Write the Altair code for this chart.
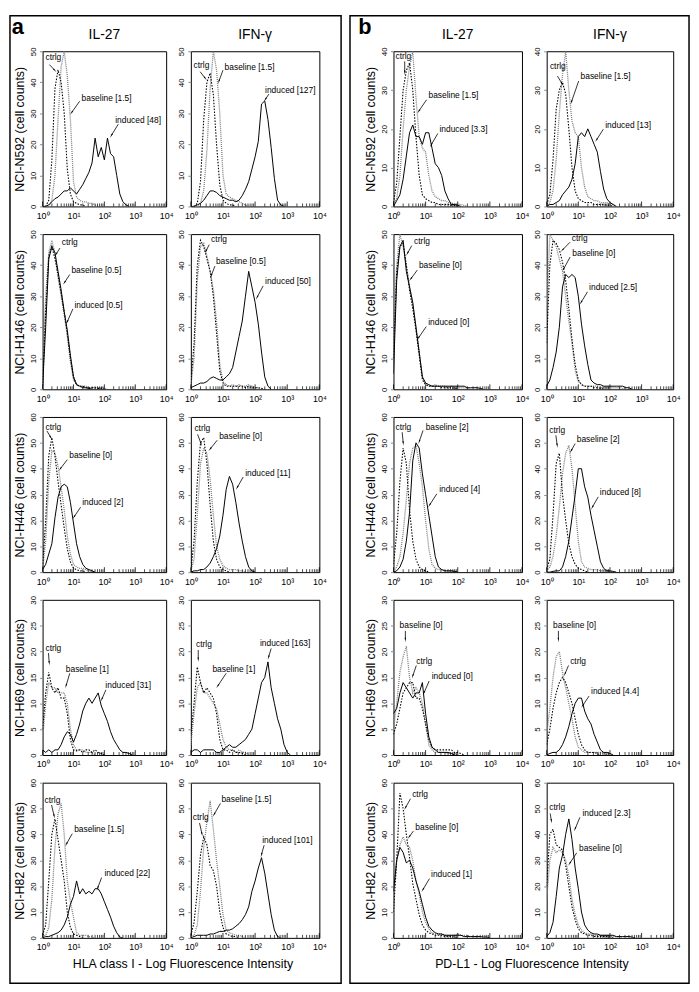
import math
import altair as alt
import pandas as pd

# log10 fluorescence bin positions (x = 10**bin)
LOG_BINS = [0.0, 0.1, 0.2, 0.3, 0.4, 0.5, 0.6, 0.7, 0.8, 0.9, 1.0, 1.1, 1.2, 1.3, 1.4, 1.5, 1.6, 1.7,
            1.8, 1.9, 2.0, 2.1, 2.2, 2.3, 2.4, 2.5, 2.6, 2.7, 2.8, 2.9, 3.0, 3.1, 3.2, 3.3, 3.4, 3.5]
DECADE_TICKS = [1, 10, 100, 1000, 10000]
DECADE_LABELS = ["10⁰", "10¹", "10²", "10³", "10⁴"]
ROW_NAMES = ["NCI-N592", "NCI-H146", "NCI-H446", "NCI-H69", "NCI-H82"]
YMAX_A = [50, 50, 60, 30, 60]
YMAX_B = [40, 50, 60, 30, 60]
COL_TITLES = ["IL-27", "IFN-γ"]
X_TITLES = ["HLA class I - Log Fluorescence Intensity", "PD-L1 - Log Fluorescence Intensity"]

# ---------------- panel a (HLA class I) ----------------
A1L_CTRL = [0, 0, 2, 15, 38, 44, 40, 30, 12, 4, 1.5, 1, 0.5, 0.5, 0]
A1L_BASE = [0, 0, 0, 2, 10, 28, 45, 50, 42, 28, 8, 3, 2, 1.5, 1.5, 1, 1, 0.5, 0]
A1L_IND = [0, 0, 0.5, 1.5, 2.5, 3, 4, 5, 5, 6, 5, 4, 5.5, 7, 9, 11, 14, 22, 16, 19, 15, 22, 17, 16, 10, 4, 1.5, 0.5, 0]
A1L_NOTES = [("ctrlg", 0.06, 48, 0.22, 45.7, 0.44, 43.4), ("baseline [1.5]", 1.23, 35, 1.2, 33.9, 0.9, 29.7),
             ("induced [48]", 2.32, 27.8, 2.45, 26.5, 2.19, 22.3)]
A1R_CTRL = [0, 0, 1, 8, 28, 40, 43, 36, 20, 7, 2, 1, 0.5, 0.5, 0]
A1R_BASE = [0, 0, 0, 1, 5, 18, 38, 50, 44, 30, 10, 4, 3, 2.5, 2, 1.5, 1, 0.5, 0]
A1R_IND = [0, 0, 0.5, 1, 2, 3.5, 5, 5, 4.5, 3.5, 3, 2.5, 2, 2, 1.5, 2, 3.5, 5.5, 8, 12, 16, 21, 33, 34, 28, 19, 9, 2, 0.5, 0]
A1R_NOTES = [("ctrlg", 0.05, 45.7, 0.29, 43.4, 0.49, 40.7), ("baseline [1.5]", 1.02, 45, 1.0, 43.9, 0.85, 39.7),
             ("induced [127]", 2.28, 37.6, 2.43, 36.2, 2.28, 33.9)]

A2L_CTRL = [2, 25, 43, 46, 42, 37, 31, 25, 18, 10, 4, 1.5, 1, 1, 0.5, 0.5, 0.5, 0.5, 0.3, 0.3, 0]
A2L_BASE = [5, 30, 44, 48, 44, 36, 30, 24, 17, 9, 3, 1.5, 1, 1, 1, 0.5, 0.5, 0.5, 0.5, 0.5, 0.3, 0]
A2L_IND = [1, 20, 42, 46, 44, 38, 32, 25, 19, 11, 4, 1.5, 1, 0.5, 0.5, 0.3, 0]
A2L_NOTES = [("ctrlg", 0.59, 47.4, 0.56, 45.5, 0.4, 42.9), ("baseline [0.5]", 0.9, 38.3, 0.88, 37, 0.67, 33.8),
             ("induced [0.5]", 1.0, 27.1, 0.98, 25.9, 0.77, 21.1)]
A2R_CTRL = [2, 15, 40, 48, 46, 42, 38, 30, 18, 6, 2, 1, 1, 1, 1, 1, 1, 0.5, 1, 0.5, 0.5, 0.5, 0.3, 0]
A2R_BASE = [1, 10, 35, 46, 47, 43, 38, 32, 22, 8, 2.5, 1.5, 1, 1.5, 1, 1.5, 1, 1, 1.5, 1, 0.5, 0.5, 0]
A2R_IND = [0.5, 1, 1.5, 2, 2, 2.5, 3.5, 4, 3.5, 3, 3, 4, 5, 7, 12, 17, 22, 30, 38, 33, 28, 21, 12, 4, 1, 0]
A2R_NOTES = [("ctrlg", 0.6, 48.5, 0.57, 46.6, 0.44, 43.9), ("baseline [0.5]", 0.75, 41.3, 0.75, 39.7, 0.61, 36),
             ("induced [50]", 2.28, 34.9, 2.25, 33.3, 2.03, 29)]

A3L_CTRL = [2, 20, 45, 52, 45, 35, 26, 17, 9, 4, 1.5, 1, 0.5, 0.5, 0]
A3L_BASE = [1, 12, 35, 47, 46, 41, 33, 24, 14, 7, 3, 2, 1.5, 1.5, 1, 0.5, 0]
A3L_IND = [1, 3, 7, 11, 21, 29, 33, 34, 33, 27, 19, 11, 6, 3, 1.5, 1, 0.5, 0]
A3L_NOTES = [("ctrlg", 0.06, 56, 0.14, 54.6, 0.3, 51.4), ("baseline [0]", 0.83, 45.2, 0.8, 43.5, 0.53, 39.3),
             ("induced [2]", 1.25, 27, 1.23, 25.1, 0.98, 20.7)]
A3R_CTRL = [1, 12, 35, 50, 52, 42, 26, 12, 5, 2, 1, 0.5, 0]
A3R_BASE = [0.5, 5, 22, 42, 48, 46, 36, 22, 10, 5, 2.5, 1.5, 1, 1, 1, 0.5, 0.5, 0]
A3R_IND = [0, 0.5, 0.5, 1, 1, 2, 3.5, 6, 9, 14, 22, 32, 37, 34, 27, 19, 12, 6, 2, 0.5, 0]
A3R_NOTES = [("ctrlg", 0.08, 55.8, 0.21, 53.3, 0.34, 48.9), ("baseline [0]", 0.85, 52.7, 0.82, 51, 0.56, 47),
             ("induced [11]", 1.66, 38.5, 1.63, 36.8, 1.41, 32)]

A4L_CTRL = [5, 12, 16, 13, 12, 13, 11, 11, 8, 3, 1, 0.8, 1, 0.5, 1, 1, 0.5, 1, 0.5, 0.3, 0]
A4L_BASE = [3, 10, 14, 13, 13, 12, 12, 12, 10, 5, 2, 1, 1, 1, 0.5, 0.5, 0.5, 0]
A4L_IND = [1, 0.5, 1, 0.5, 1, 1, 2, 3.5, 4.5, 4, 2.5, 4, 6, 8.5, 10, 11, 10, 11, 12, 9.5, 8, 6.5, 4.5, 3, 2, 1, 0.5, 0.5, 0.3, 0]
A4L_NOTES = [("ctrlg", 0.06, 20.6, 0.19, 19.7, 0.22, 17.4), ("baseline [1]", 0.72, 16.7, 0.88, 15.8, 0.74, 13),
             ("induced [31]", 2.0, 13.6, 2.05, 12.6, 1.89, 10.4)]
A4R_CTRL = [4, 10, 17, 14, 12, 13, 12, 11, 8, 3, 1, 1, 0.5, 1, 0.5, 0.5, 0.3, 0]
A4R_BASE = [2, 8, 13, 14, 12, 12, 11, 10, 9, 6, 3, 1.5, 1, 1, 0.5, 1, 0.5, 0.5, 0]
A4R_IND = [0.5, 1, 1, 0.5, 1, 1, 1, 1, 0.5, 0.5, 1, 1.5, 2, 1.5, 1.5, 2, 2.5, 3, 4, 5, 8, 11, 14, 15, 18, 13, 10, 7, 5, 2, 0.5, 0]
A4R_NOTES = [("ctrlg", 0.13, 21.4, 0.23, 20.3, 0.23, 18.1), ("baseline [1]", 0.64, 16.7, 1.1, 15.8, 0.8, 13),
             ("induced [163]", 2.12, 21.7, 2.5, 20.6, 2.4, 18.5)]

A5L_CTRL = [1, 5, 22, 40, 46, 38, 30, 22, 10, 4, 1.5, 1, 0.5, 0]
A5L_BASE = [0.5, 1, 4, 15, 35, 48, 52, 40, 22, 14, 8, 2, 1, 1, 1, 0.5, 0.3, 0]
A5L_IND = [0, 0.5, 0.5, 1, 1.5, 2, 3, 5, 8, 13, 16, 22, 17, 19, 17, 18, 17, 19, 19, 17, 14, 11, 8, 4.5, 2, 0.3, 0]
A5L_NOTES = [("ctrlg", 0.03, 53.3, 0.29, 51.4, 0.39, 46.3), ("baseline [1.5]", 0.99, 41.9, 0.96, 40.3, 0.74, 35.6),
             ("induced [22]", 1.97, 25.2, 1.91, 23.3, 1.76, 18.5)]
A5R_CTRL = [1, 6, 18, 32, 39, 36, 28, 26, 20, 10, 4, 1.5, 1, 0.5, 0.5, 0]
A5R_BASE = [0.5, 1, 5, 18, 35, 45, 53, 42, 30, 20, 9, 3, 2, 1.5, 1, 1, 0.5, 0]
A5R_IND = [0, 0.5, 1, 1, 1, 1, 1.5, 1.5, 2, 2.5, 2.5, 3, 3, 3.5, 4.5, 5.5, 7, 9, 12, 18, 22, 27, 31, 25, 17, 9, 3, 0.5, 0]
A5R_NOTES = [("ctrlg", 0.03, 46.6, 0.27, 44.4, 0.36, 39.4), ("baseline [1.5]", 0.92, 53.7, 0.92, 52, 0.69, 47),
             ("induced [101]", 2.19, 37.7, 2.28, 35.8, 2.18, 31.4)]

# ---------------- panel b (PD-L1) ----------------
B1L_CTRL = [1, 6, 18, 30, 35, 37, 30, 18, 8, 3, 2, 1.5, 1, 1, 0.5, 0.5, 0.5, 0.5, 0.3, 0.3, 0]
B1L_BASE = [0.5, 2, 8, 20, 30, 36, 40, 28, 18, 15, 14, 8, 4, 2.5, 2, 1.5, 1.5, 1, 1, 0.5, 0.5, 0.5, 0.3, 0]
B1L_IND = [0, 1.5, 3, 7, 13, 19, 21, 18, 18, 16, 19, 19, 15, 11, 10, 8, 4, 2, 0.5, 0.5, 0.3, 0]
B1L_NOTES = [("ctrlg", 0.03, 38.8, 0.35, 37.4, 0.35, 34), ("baseline [1.5]", 1.06, 28.7, 1.03, 27.5, 0.75, 24.1),
             ("induced [3.3]", 1.4, 19.9, 1.38, 18.8, 1.14, 15.4)]
B1R_CTRL = [0.5, 3, 12, 25, 30, 32, 29, 20, 10, 4, 2, 1.5, 1, 1, 1, 0.5, 0.5, 0.5, 0.5, 0.3, 0.3, 0]
B1R_BASE = [0, 1, 4, 12, 24, 34, 40, 30, 22, 19, 18, 10, 5, 2.5, 2, 1.5, 1.5, 1, 1, 1, 0.5, 0.5, 0]
B1R_IND = [0, 0.5, 0.5, 1, 1.5, 3, 4, 5, 7, 11, 18, 19, 18, 20, 18, 16, 14, 9, 4.5, 2, 1, 0.5, 0]
B1R_NOTES = [("ctrlg", 0.07, 36.1, 0.34, 33.6, 0.52, 31.2), ("baseline [1.5]", 1.04, 33.6, 1.01, 32.3, 0.76, 26.4),
             ("induced [13]", 1.82, 21.1, 1.79, 19.9, 1.54, 16.7)]

B2L_CTRL = [10, 38, 46, 47, 40, 32, 26, 19, 11, 3, 1.5, 1, 1, 1, 1, 0.5, 0.5, 0.5, 0.5, 0.3, 0]
B2L_BASE = [15, 40, 50, 46, 40, 33, 27, 20, 12, 4, 2, 1, 1, 1.5, 1, 1, 1, 0.5, 1, 0.5, 0.5, 0.5, 0.5, 0.3, 0]
B2L_IND = [5, 35, 46, 48, 38, 33, 28, 20, 12, 4, 2, 1.5, 1, 1, 1, 1, 1, 1, 1, 1, 1, 1, 1, 0.5, 0.5, 0.5, 0.5, 0.3, 0]
B2L_NOTES = [("ctrlg", 0.61, 47.9, 0.57, 46.3, 0.4, 43.2), ("baseline [0]", 0.76, 40, 0.74, 38.4, 0.5, 35),
             ("induced [0]", 1.05, 21.8, 1.02, 20.2, 0.74, 16)]
B2R_CTRL = [15, 40, 48, 47, 45, 41, 35, 26, 16, 8, 3, 1.5, 1, 1, 1, 0.5, 0.5, 0.3, 0]
B2R_BASE = [25, 50, 48, 46, 42, 38, 30, 22, 15, 6, 2.5, 1.5, 1, 1, 1, 1, 1, 0.5, 0.5, 0.5, 0.5, 0.5, 0.5, 0.5, 0.3, 0]
B2R_IND = [1, 3, 7, 12, 20, 33, 37, 36, 37, 36, 30, 21, 14, 8, 3, 2, 1.5, 1.5, 1, 1, 1, 1, 1, 1, 1, 0.5, 0.5, 0]
B2R_NOTES = [("ctrlg", 0.76, 48.6, 0.74, 47.4, 0.45, 44.4), ("baseline [0]", 0.78, 44, 0.74, 42.6, 0.5, 38.1),
             ("induced [2.5]", 1.31, 32.8, 1.29, 31.4, 1.05, 27.4)]

B3L_CTRL = [3, 15, 35, 48, 42, 24, 12, 5, 2, 1, 0.5, 0]
B3L_BASE = [0.5, 2, 6, 15, 28, 42, 48, 49, 42, 33, 20, 9, 3, 1.5, 1, 1, 0.5, 0.5, 0.5, 0.3, 0]
B3L_IND = [0, 0.5, 2, 5, 12, 23, 43, 50, 48, 38, 30, 22, 14, 6, 2, 1, 0.5, 0.5, 0.5, 0.3, 0]
B3L_NOTES = [("ctrlg", 0.03, 56, 0.27, 54.1, 0.31, 49.1), ("baseline [2]", 0.97, 56, 0.92, 54.8, 0.78, 49.7),
             ("induced [4]", 1.39, 32, 1.35, 30.3, 1.09, 25.3)]
B3R_CTRL = [1, 5, 22, 42, 46, 30, 20, 11, 6, 3, 1.5, 1, 0.5, 0]
B3R_BASE = [0.5, 2, 6, 14, 25, 38, 46, 49, 40, 26, 12, 4, 2, 1.5, 1, 1, 1, 0.5, 0.5, 0.5, 0.3, 0]
B3R_IND = [0, 0, 0.3, 0.5, 0.5, 2, 6, 12, 21, 30, 40, 40, 33, 29, 22, 16, 10, 4, 1.5, 0.5, 0.5, 0.3, 0]
B3R_NOTES = [("ctrlg", 0.05, 55, 0.29, 52.9, 0.34, 48.2), ("baseline [2]", 0.92, 51.6, 0.9, 49.7, 0.74, 46.2),
             ("induced [8]", 1.65, 31, 1.63, 29.1, 1.41, 24.4)]

B4L_CTRL = [4, 6, 9, 12, 13, 14, 14, 11, 11, 9, 6, 3, 1.5, 1, 1, 1, 1, 1, 1, 0.5, 0.5, 0.3, 0]
B4L_BASE = [5, 10, 16, 19, 21, 15, 12, 13, 12, 10, 6, 2, 1, 0.5, 0.5, 0.5, 0.5, 0.3, 0.3, 0.3, 0]
B4L_IND = [8, 9, 12, 14, 13, 12, 11, 12, 12, 14, 8, 3.5, 1.5, 1, 0.5, 0.5, 0.5, 0.5, 0.3, 0]
B4L_NOTES = [("baseline [0]", 0.16, 25.1, 0.37, 24, 0.37, 21.9), ("ctrlg", 0.68, 18.2, 0.71, 17.3, 0.58, 14.9),
             ("induced [0]", 1.16, 15.3, 1.11, 14.3, 0.92, 11.6)]
B4R_CTRL = [2, 5, 9, 12, 14, 15, 14, 12, 10, 7, 4, 2, 1, 0.5, 0.5, 0.5, 0.3, 0]
B4R_BASE = [4, 9, 15, 19, 20, 16, 13, 10, 7, 3.5, 1.5, 1, 0.5, 0.5, 0.5, 0.5, 0.5, 0.5, 0.3, 0]
B4R_IND = [0, 0.3, 0.5, 0.5, 1, 2, 3.5, 5.5, 8, 10, 11, 11, 8.5, 7, 6, 4, 2.5, 1, 0.5, 0.5, 0.3, 0]
B4R_NOTES = [("baseline [0]", 0.17, 25.1, 0.37, 24, 0.37, 21.9), ("ctrlg", 0.71, 18.2, 0.69, 17.3, 0.55, 15.3),
             ("induced [4.4]", 1.37, 12.4, 1.34, 11.4, 1.1, 9.2)]

B5L_CTRL = [10, 30, 56, 50, 40, 31, 21, 15, 9, 5, 3, 2, 1.5, 1, 1, 1, 0.5, 0.5, 0.5, 0.3, 0]
B5L_BASE = [15, 30, 36, 39, 36, 35, 30, 22, 17, 10, 6, 3.5, 2, 1.5, 1.5, 1.5, 1, 1, 1, 1, 1.5, 1, 1, 1, 0.5, 0.5, 0]
B5L_IND = [18, 30, 35, 33, 29, 30, 27, 22, 18, 13, 8, 4.5, 3, 2, 1.5, 1.5, 1, 1, 1, 1, 1, 1, 0.5, 0.5, 0.5, 0.5, 0.5, 0.5, 0.3, 0.3, 0]
B5L_NOTES = [("ctrlg", 0.55, 55.6, 0.53, 53.8, 0.34, 49.6), ("baseline [0]", 0.65, 42.9, 0.62, 41.3, 0.45, 38.4),
             ("induced [1]", 1.14, 24.6, 1.12, 22.9, 0.88, 17.9)]
B5R_CTRL = [20, 40, 42, 36, 35, 34, 28, 20, 12, 7, 3.5, 2, 1.5, 1, 1, 0.5, 0.5, 0.5, 0.5, 0.5, 0.3, 0]
B5R_BASE = [15, 30, 35, 33, 34, 33, 30, 24, 15, 9, 5, 3, 2, 1.5, 1.5, 1, 1, 1, 1, 1, 0.5, 0.5, 0.5, 0.3, 0]
B5R_IND = [0.5, 2, 6, 16, 27, 32, 40, 46, 38, 27, 19, 10, 5, 3, 2, 1.5, 1.5, 1, 1, 1, 1, 1, 0.5, 0.5, 0.5, 0.5, 0.5, 0.3, 0]
B5R_NOTES = [("ctrlg", 0.05, 50.4, 0.11, 48.1, 0.16, 44.4), ("induced [2.3]", 1.1, 48.4, 1.05, 46.6, 0.87, 41.3),
             ("baseline [0]", 0.99, 34.6, 0.95, 32.9, 0.69, 28.1)]

PANEL_A = [
    [(A1L_CTRL, A1L_BASE, A1L_IND, A1L_NOTES), (A1R_CTRL, A1R_BASE, A1R_IND, A1R_NOTES)],
    [(A2L_CTRL, A2L_BASE, A2L_IND, A2L_NOTES), (A2R_CTRL, A2R_BASE, A2R_IND, A2R_NOTES)],
    [(A3L_CTRL, A3L_BASE, A3L_IND, A3L_NOTES), (A3R_CTRL, A3R_BASE, A3R_IND, A3R_NOTES)],
    [(A4L_CTRL, A4L_BASE, A4L_IND, A4L_NOTES), (A4R_CTRL, A4R_BASE, A4R_IND, A4R_NOTES)],
    [(A5L_CTRL, A5L_BASE, A5L_IND, A5L_NOTES), (A5R_CTRL, A5R_BASE, A5R_IND, A5R_NOTES)],
]
PANEL_B = [
    [(B1L_CTRL, B1L_BASE, B1L_IND, B1L_NOTES), (B1R_CTRL, B1R_BASE, B1R_IND, B1R_NOTES)],
    [(B2L_CTRL, B2L_BASE, B2L_IND, B2L_NOTES), (B2R_CTRL, B2R_BASE, B2R_IND, B2R_NOTES)],
    [(B3L_CTRL, B3L_BASE, B3L_IND, B3L_NOTES), (B3R_CTRL, B3R_BASE, B3R_IND, B3R_NOTES)],
    [(B4L_CTRL, B4L_BASE, B4L_IND, B4L_NOTES), (B4R_CTRL, B4R_BASE, B4R_IND, B4R_NOTES)],
    [(B5L_CTRL, B5L_BASE, B5L_IND, B5L_NOTES), (B5R_CTRL, B5R_BASE, B5R_IND, B5R_NOTES)],
]

FONT = "Liberation Sans"
H = 157
ROW_STEP = 185
STYLE = {
    "baseline": dict(color="#7d7d7d", strokeDash=[1, 1], strokeWidth=1.3),
    "ctrlg": dict(color="black", strokeDash=[1.5, 1.5], strokeWidth=1.1),
    "induced": dict(color="black", strokeWidth=1),
}

LABEL_EXPR = " : ".join(f"datum.value == {v} ? '{l}'" for v, l in zip(DECADE_TICKS, DECADE_LABELS)) + " : ''"


def make_plot(curves, ymax, width, ytitle, coltitle, extras):
    ctrl, base, ind, notes = curves
    xs = alt.Scale(type="log", domain=[1, 10000], nice=False)
    ys = alt.Scale(domain=[0, ymax], nice=False, zero=True)
    step = 5 if ymax == 30 else 10
    xaxis = alt.Axis(values=DECADE_TICKS, labelExpr=LABEL_EXPR, ticks=False, domain=False, grid=False,
                     labelFlush=False, labelOverlap=False, labelFontSize=9, labelPadding=5, title=None)
    yaxis = alt.Axis(values=list(range(0, ymax + 1, step)), labelAngle=270, labelAlign="center",
                     labelBaseline="bottom", labelFontSize=8, labelPadding=2, tickSize=3, domain=False,
                     grid=False, labelFlush=False, labelOverlap=False, title=ytitle, titleFontSize=12.5,
                     titleFontWeight="normal", titlePadding=3)

    def X(f):
        return alt.X(f, type="quantitative", scale=xs, axis=xaxis)

    def Y(f):
        return alt.Y(f, type="quantitative", scale=ys, axis=yaxis)

    layers = []
    for name, vals in (("baseline", base), ("ctrlg", ctrl), ("induced", ind)):
        df = pd.DataFrame({"x": [10 ** b for b in LOG_BINS[:len(vals)]], "y": vals})
        layers.append(alt.Chart(df).mark_line(clip=True, **STYLE[name]).encode(x=X("x"), y=Y("y")))

    major = pd.DataFrame({"t": DECADE_TICKS})
    minor = pd.DataFrame({"t": [k * 10 ** d for d in range(4) for k in range(2, 10)]})
    layers.append(alt.Chart(major).mark_rule(color="black", strokeWidth=0.8).encode(
        x=X("t"), y=alt.value(H), y2=alt.value(H - 5)))
    layers.append(alt.Chart(minor).mark_rule(color="black", strokeWidth=0.7).encode(
        x=X("t"), y=alt.value(H), y2=alt.value(H - 3)))

    rows = []
    for label, tlx, ty, alx, ay, hlx, hy in notes:
        ptx, pty = alx / 4 * width, H - ay / ymax * H
        phx, phy = hlx / 4 * width, H - hy / ymax * H
        vx, vy = phx - ptx, phy - pty
        n = math.hypot(vx, vy) or 1.0
        ux, uy = vx / n, vy / n
        ang = math.degrees(math.atan2(ux, -uy)) % 360
        clx = hlx - 2.5 * ux / width * 4
        cy = hy + 2.5 * uy / H * ymax
        rows.append(dict(label=label, tx=10 ** tlx, ty=ty, ax=10 ** alx, ay=ay,
                         cx=10 ** clx, cy=cy, ang=ang))
    ndf = pd.DataFrame(rows)
    layers.append(alt.Chart(ndf).mark_rule(color="black", strokeWidth=0.8).encode(
        x=X("ax"), y=Y("ay"), x2="cx", y2="cy"))
    layers.append(alt.Chart(ndf).mark_point(shape="wedge", filled=True, size=28, color="black", opacity=1).encode(
        x=X("cx"), y=Y("cy"), angle=alt.Angle("ang:Q", scale=None)))
    layers.append(alt.Chart(ndf).mark_text(align="left", baseline="middle", dx=1, fontSize=8.5, font=FONT).encode(
        x=X("tx"), y=Y("ty"), text="label:N"))

    layers.extend(extras)
    chart = alt.layer(*layers).properties(width=width, height=H)
    if coltitle:
        chart = chart.properties(title=alt.TitleParams(coltitle, fontSize=14, fontWeight="normal", font=FONT,
                                                       anchor="middle", offset=5))
    return chart


one = pd.DataFrame({"k": [0]})


def frame(x0, x1, letter, lx):
    # drawn from the second row's left plot (no title there), so offsets are one row step up
    top = -36 - ROW_STEP
    return [
        alt.Chart(one).mark_rect(fillOpacity=0, stroke="black", strokeWidth=1.5).encode(
            x=alt.value(x0), x2=alt.value(x1), y=alt.value(top), y2=alt.value(943 - ROW_STEP)),
        alt.Chart(one).mark_text(fontSize=22, fontWeight="bold", font=FONT, align="center",
                                 baseline="alphabetic").encode(
            x=alt.value(lx), y=alt.value(-17 - ROW_STEP), text=alt.value(letter)),
    ]


def xtitle(text, cx):
    return [alt.Chart(one).mark_text(fontSize=12.5, font=FONT, align="center", baseline="alphabetic").encode(
        x=alt.value(cx), y=alt.value(187), text=alt.value(text))]


def spacer():
    return alt.Chart(one).mark_text().encode(
        x=alt.value(0), y=alt.value(0), text=alt.value("")).properties(
        width=25, height=H, view=alt.ViewBackground(stroke="transparent"))


WIDTHS_A = (125, 130)
WIDTHS_B = (130, 128)
cells = []
for r in range(5):
    ytitle = ROW_NAMES[r] + " (cell counts)"
    for data, ymaxes, widths, fr, xt in (
        (PANEL_A, YMAX_A, WIDTHS_A, frame(-33, 302, "a", -25), xtitle(X_TITLES[0], 142)),
        (PANEL_B, YMAX_B, WIDTHS_B, frame(-44, 299, "b", -29), xtitle(X_TITLES[1], 140)),
    ):
        extra = (fr if r == 1 else []) + (xt if r == 4 else [])
        cells.append(make_plot(data[r][0], ymaxes[r], widths[0], ytitle,
                               COL_TITLES[0] if r == 0 else None, extra))
        cells.append(make_plot(data[r][1], ymaxes[r], widths[1], None,
                               COL_TITLES[1] if r == 0 else None, []))
        if data is PANEL_A:
            cells.append(spacer())

chart = alt.concat(*cells, columns=5, spacing=alt.RowColnumber(row=ROW_STEP - H, column=25), bounds="flush",
                   align="each").properties(padding=0).configure(
    font=FONT).configure_view(stroke="black", strokeWidth=1)

chart.save("out.html", embed_options={"renderer": "svg", "actions": False})
